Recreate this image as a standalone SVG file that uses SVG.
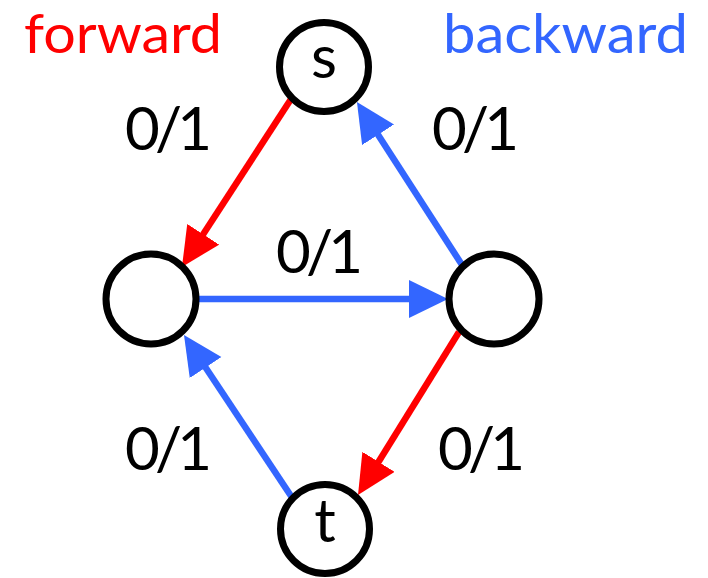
<svg xmlns="http://www.w3.org/2000/svg" width="708" height="578" viewBox="0 0 708 578">
<style>
.node{fill:#fff;stroke:#000;stroke-width:7}
.lbl{font-family:Lato,"Open Sans",sans-serif;font-size:60px;fill:#000}
.hdr{font-family:Lato,"Open Sans",sans-serif;font-size:55px}
.e{stroke-width:6.5;fill:none}
.red{stroke:#FF0000}
.blue{stroke:#3366FF}
</style>
<defs>
<marker id="ar" markerUnits="userSpaceOnUse" markerWidth="40" markerHeight="40" refX="9" refY="19" orient="auto"><path d="M0,0 L39,19 L0,38 z" fill="#FF0000"/></marker>
<marker id="ab" markerUnits="userSpaceOnUse" markerWidth="40" markerHeight="40" refX="9" refY="19" orient="auto"><path d="M0,0 L39,19 L0,38 z" fill="#3366FF"/></marker>
</defs>
<g id="connectors">
<line class="e red" x1="293" y1="96" x2="198.3" y2="241.8" marker-end="url(#ar)"/>
<line class="e blue" x1="196" y1="299" x2="418" y2="299" marker-end="url(#ab)"/>
<line class="e blue" x1="464" y1="268" x2="373.2" y2="127.2" marker-end="url(#ab)"/>
<line class="e blue" x1="295" y1="502" x2="200.6" y2="360" marker-end="url(#ab)"/>
<line class="e red" x1="459" y1="332" x2="373.8" y2="469.5" marker-end="url(#ar)"/>
</g>
<g id="node-s"><circle class="node" cx="324" cy="67" r="44.5"/><text class="lbl" x="324" y="78" text-anchor="middle">s</text></g>
<g id="node-left"><circle class="node" cx="151" cy="299" r="45"/></g>
<g id="node-right"><circle class="node" cx="494" cy="299" r="45"/></g>
<g id="node-t"><circle class="node" cx="325" cy="529" r="44.5"/><text class="lbl" x="325" y="542" text-anchor="middle">t</text></g>
<g id="labels">
<text class="hdr" x="24" y="53" fill="#FF0000" textLength="198" lengthAdjust="spacingAndGlyphs">forward</text>
<text class="hdr" x="443" y="53" fill="#3366FF" textLength="245" lengthAdjust="spacingAndGlyphs">backward</text>
<text class="lbl" x="125" y="150" textLength="87">0/1</text>
<text class="lbl" x="432" y="150" textLength="87">0/1</text>
<text class="lbl" x="276" y="273" textLength="87">0/1</text>
<text class="lbl" x="125" y="470" textLength="87">0/1</text>
<text class="lbl" x="438" y="470" textLength="87">0/1</text>
</g>
</svg>
